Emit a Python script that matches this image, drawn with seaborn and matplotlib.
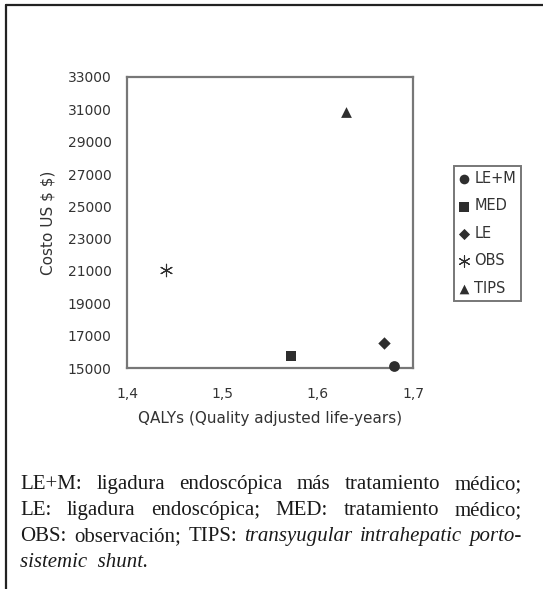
import matplotlib
matplotlib.use("Agg")
import matplotlib.pyplot as plt
import matplotlib.lines as mlines
import seaborn as sns
import pandas as pd

# datos
tratamientos = ["LE+M", "MED", "LE", "OBS", "TIPS"]
qalys = [1.680, 1.572, 1.670, 1.441, 1.630]
costos = [15100, 15750, 16550, 21050, 30850]

x_ticks = [1.4, 1.5, 1.6, 1.7]
x_labels = ["1,4", "1,5", "1,6", "1,7"]
y_ticks = list(range(15000, 33001, 2000))

x_label = "QALYs (Quality adjusted life-years)"
y_label = r"Costo US \$ \$)"

caption = [
    [("LE+M:", "normal"), ("ligadura", "normal"), ("endoscópica", "normal"), ("más", "normal"),
     ("tratamiento", "normal"), ("médico;", "normal")],
    [("LE:", "normal"), ("ligadura", "normal"), ("endoscópica;", "normal"), ("MED:", "normal"),
     ("tratamiento", "normal"), ("médico;", "normal")],
    [("OBS:", "normal"), ("observación;", "normal"), ("TIPS:", "normal"), ("transyugular", "italic"),
     ("intrahepatic", "italic"), ("porto-", "italic")],
]
last_line = "sistemic  shunt."

df = pd.DataFrame({"Tratamiento": tratamientos, "QALYs": qalys, "Costo": costos})

sns.set_style("white")
plt.rcParams["font.family"] = ["DejaVu Sans"]

W, H = 543, 589
fig = plt.figure(figsize=(W / 100, H / 100), dpi=100)
fig.patch.set_facecolor("white")

# marco de la figura (arriba e izquierda)
fig.add_artist(mlines.Line2D([6 / W, 1.0], [1 - 5 / H, 1 - 5 / H], transform=fig.transFigure,
                             color="#222222", lw=1.6))
fig.add_artist(mlines.Line2D([6 / W, 6 / W], [0.0, 1 - 5 / H], transform=fig.transFigure,
                             color="#222222", lw=1.6))

ax = fig.add_axes([127 / W, 1 - 368 / H, (413 - 127) / W, (368 - 77) / H])

marcadores = {"LE+M": "o", "MED": "s", "LE": "D", "OBS": (6, 2, 0), "TIPS": "^"}
tamanos = {"LE+M": 60, "MED": 55, "LE": 40, "OBS": 80, "TIPS": 60}
color_m = "#2e2e2e"

for t in tratamientos:
    sub = df[df["Tratamiento"] == t]
    sns.scatterplot(data=sub, x="QALYs", y="Costo", marker=marcadores[t], s=tamanos[t],
                    color=color_m, edgecolor=color_m, linewidth=0.8 if t == "OBS" else 0,
                    ax=ax, label=t, clip_on=False, zorder=3)

handles, labels = ax.get_legend_handles_labels()
ax.get_legend().remove()

ax.set_xlim(1.4, 1.7)
ax.set_ylim(15000, 33000)
ax.set_xticks(x_ticks)
ax.set_xticklabels(x_labels)
ax.set_yticks(y_ticks)
ax.set_yticklabels([str(v) for v in y_ticks])

for s in ax.spines.values():
    s.set_color("#777777")
    s.set_linewidth(1.6)
ax.tick_params(axis="both", direction="out", length=4, width=1.2, color="#666666",
               labelsize=10, labelcolor="#333333", pad=7)
ax.tick_params(axis="x", pad=10)

ax.set_xlabel(x_label, fontsize=11, color="#333333", labelpad=7)
ax.set_ylabel(y_label, fontsize=11, color="#333333", labelpad=9)

leg = fig.legend(handles, labels, loc="upper left", bbox_to_anchor=(454 / W, 1 - 166 / H),
                 frameon=True, fancybox=False, fontsize=10.5, handletextpad=0.35,
                 handlelength=0.7, borderpad=0.35, labelspacing=0.85, borderaxespad=0,
                 markerscale=0.9)
leg.get_frame().set_edgecolor("#555555")
leg.get_frame().set_linewidth(1.4)
for txt in leg.get_texts():
    txt.set_color("#333333")

# pie de figura justificado
fig.canvas.draw()
renderer = fig.canvas.get_renderer()
x0, x1 = 20, 522
baselines = [489, 515, 541, 567]
cap_size = 15

for words, yb in zip(caption, baselines):
    objs = []
    for w, st in words:
        t = fig.text(0, 1 - yb / H, w, fontsize=cap_size, family="Liberation Serif",
                     style=st, color="#1a1a1a", va="baseline", ha="left")
        objs.append(t)
    widths = [o.get_window_extent(renderer).width for o in objs]
    gap = (x1 - x0 - sum(widths)) / (len(objs) - 1)
    xp = x0
    for o, wd in zip(objs, widths):
        o.set_x(xp / W)
        xp += wd + gap

fig.text(x0 / W, 1 - baselines[3] / H, last_line, fontsize=cap_size, family="Liberation Serif",
         style="italic", color="#1a1a1a", va="baseline", ha="left")

fig.savefig("out.png", dpi=100)
